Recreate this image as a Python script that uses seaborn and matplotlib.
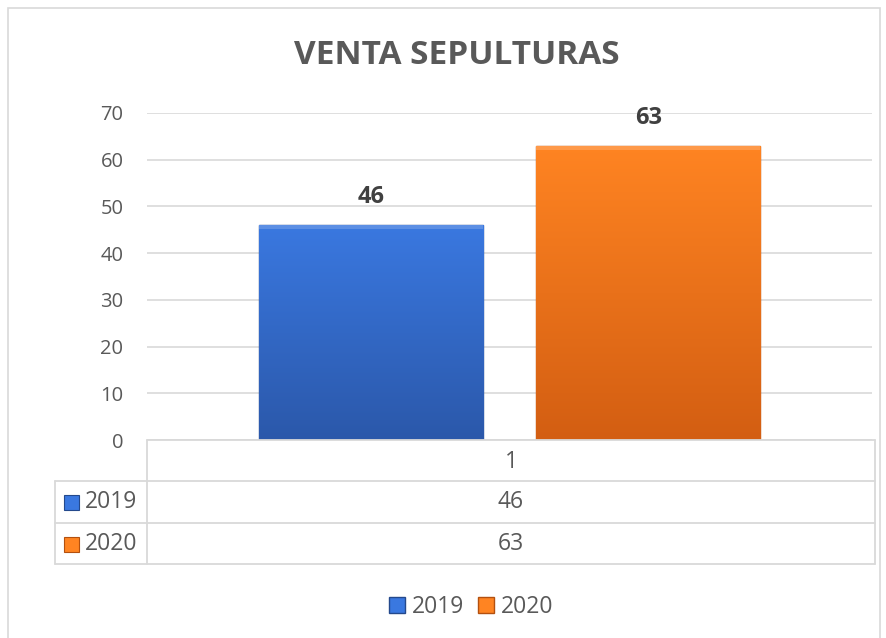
import numpy as np
import pandas as pd
import matplotlib
matplotlib.use("Agg")
import matplotlib.pyplot as plt
from matplotlib.lines import Line2D
from matplotlib.patches import Rectangle
from matplotlib.colors import LinearSegmentedColormap
import seaborn as sns

# Data
categories = ["1"]
years = ["2019", "2020"]
ventas = [46, 63]
y_ticks = [0, 10, 20, 30, 40, 50, 60, 70]

title = "VENTA SEPULTURAS"
text_color = "#595959"
grid_color = "#d9d9d9"
bar_top = {"2019": "#3a78e0", "2020": "#ff8422"}
bar_bottom = {"2019": "#2b58aa", "2020": "#d35e12"}
bar_edge = {"2019": "#24498c", "2020": "#b3500f"}

sns.set_theme(style="white")
plt.rcParams["font.family"] = ["Open Sans", "DejaVu Sans"]

W, H = 886, 638
fig = plt.figure(figsize=(W / 100, H / 100), dpi=100)

def fx(x):
    return x / W

def fy(y):
    return 1 - y / H

ax = fig.add_axes([fx(147), fy(440), fx(872) - fx(147), fy(113) - fy(440)])

df = pd.DataFrame({
    "cat": categories * len(years),
    "year": years,
    "ventas": ventas,
})

sns.barplot(data=df, x="cat", y="ventas", hue="year", hue_order=years,
            palette=[bar_top[y] for y in years], width=0.765, gap=0.19,
            legend=False, ax=ax, zorder=3)

ax.set_ylim(0, 70)
ax.set_xlim(-0.5, 0.5)
ax.set_yticks(y_ticks)
ax.set_yticklabels([str(t) for t in y_ticks], fontsize=14.5, color=text_color)
ax.tick_params(axis="y", length=0, pad=17)
ax.set_xticks([])
ax.set_xlabel("")
ax.set_ylabel("")
for s in ax.spines.values():
    s.set_visible(False)
ax.yaxis.grid(True, color=grid_color, linewidth=1.2, zorder=0)
ax.set_axisbelow(True)

# Vertical gradient fill on each bar, a light bevel on top, and value labels
for patch, year, val in zip(ax.patches, years, ventas):
    patch.set_edgecolor(bar_edge[year])
    patch.set_linewidth(1.0)
    x0, y0 = patch.get_x(), patch.get_y()
    w, h = patch.get_width(), patch.get_height()
    cmap = LinearSegmentedColormap.from_list(
        "g" + year, [bar_bottom[year], bar_top[year]])
    grad = np.linspace(0, 1, 256).reshape(-1, 1)
    im = ax.imshow(grad, extent=[x0, x0 + w, y0, y0 + h], origin="lower",
                   aspect="auto", cmap=cmap, zorder=3.5)
    im.set_clip_path(patch)
    ax.add_patch(Rectangle((x0, y0 + h - 0.9), w, 0.9, facecolor="white",
                           alpha=0.18, edgecolor="none", zorder=3.6))
    ax.text(x0 + w / 2, val + 6, str(val), ha="center", va="center",
            fontsize=17, fontweight="bold", color="#404040", zorder=5)
ax.set_xlim(-0.5, 0.5)
ax.set_ylim(0, 70)

# Title
fig.text(fx(457), fy(55), title, ha="center", va="center", fontsize=24,
         fontweight="bold", color=text_color)

# Data table under the plot
line_kw = dict(color=grid_color, linewidth=1.3, transform=fig.transFigure)
def hline(y, x0, x1):
    fig.add_artist(Line2D([fx(x0), fx(x1)], [fy(y), fy(y)], **line_kw))

def vline(x, y0, y1):
    fig.add_artist(Line2D([fx(x), fx(x)], [fy(y0), fy(y1)], **line_kw))

hline(440, 147, 875)
hline(481, 55, 875)
hline(523, 55, 875)
hline(564, 55, 875)
vline(147, 440, 564)
vline(875, 440, 564)
vline(55, 481, 564)

table_fs = 16.5
cx = fx(511)
fig.text(cx, fy(462), categories[0], ha="center", va="center",
         fontsize=table_fs, color=text_color)
for year, val, yc in zip(years, ventas, [502, 544]):
    fig.text(cx, fy(yc), str(val), ha="center", va="center",
             fontsize=table_fs, color=text_color)
    fig.add_artist(Rectangle((fx(64), fy(yc + 8)), fx(15), fy(0) - fy(15),
                             facecolor=bar_top[year], edgecolor=bar_edge[year],
                             linewidth=0.8, transform=fig.transFigure))
    fig.text(fx(85), fy(yc), year, ha="left", va="center",
             fontsize=table_fs, color=text_color)

# Legend
handles = [Rectangle((0, 0), 1, 1, facecolor=bar_top[y], edgecolor=bar_edge[y])
           for y in years]
fig.legend(handles, years, loc="center", bbox_to_anchor=(fx(471), fy(607)),
           ncol=2, frameon=False, fontsize=table_fs, handlelength=0.7,
           handleheight=0.7, handletextpad=0.3, columnspacing=0.6,
           labelcolor=text_color)

# Chart frame
fig.add_artist(Rectangle((fx(8), fy(645)), fx(880) - fx(8), fy(8) - fy(645),
                         facecolor="none", edgecolor=grid_color, linewidth=1.2,
                         transform=fig.transFigure))

fig.savefig("out.png", dpi=100)
